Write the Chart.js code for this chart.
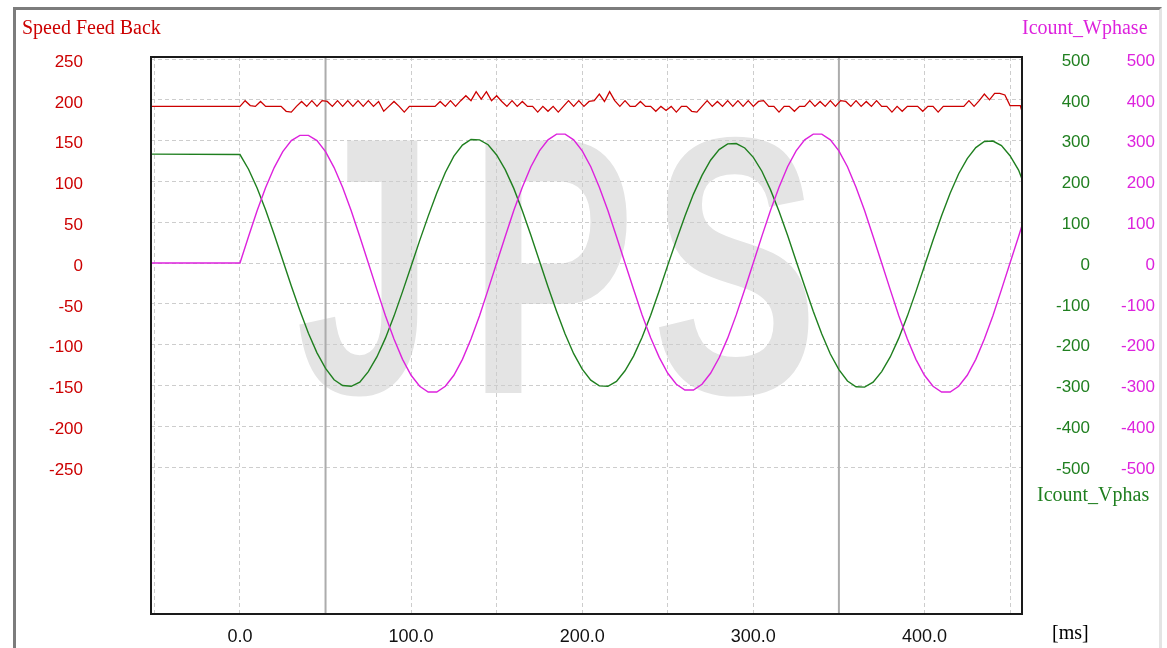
<!DOCTYPE html>
<html><head><meta charset="utf-8">
<script src="https://cdn.jsdelivr.net/npm/chart.js@4/dist/chart.umd.min.js"></script>
<style>
html,body{margin:0;padding:0;background:#fff;}
#wrap{position:relative;width:1167px;height:648px;overflow:hidden;background:#fff;}
#frame{position:absolute;left:13px;top:7px;width:1143px;height:660px;border-left:3px solid #7c7c7c;border-top:3px solid #7c7c7c;border-right:3px solid #e4e4e4;}
canvas{position:absolute;left:0;top:0;}
</style></head><body>
<div id="wrap"><div id="frame"></div><canvas id="c" width="1167" height="648"></canvas></div>
<script>
// ---- axis ranges & ticks ----
const timeMin = -52, timeMax = 457;
const xGridTicks = [-50, 0, 50, 100, 150, 200, 250, 300, 350, 400, 450];
const xLabelTicks = [0, 100, 200, 300, 400];
const speedTicks = [250, 200, 150, 100, 50, 0, -50, -100, -150, -200, -250];
const currentTicks = [500, 400, 300, 200, 100, 0, -100, -200, -300, -400, -500];
const speedMin = -430, speedMax = 252.5;
const currentMin = -860, currentMax = 505;
const cursorTimes = [50, 350];

// ---- Speed Feed Back (left axis), sampled every 3 ms from 0 ms ----
const speedStepMs = 3;
const speedLeadValue = 192;   // value at timeMin (flat before 0)
const speedEndValue = 186;    // value at timeMax
const speedFeedBack = [
  192,199,193,192,198,192,192,192,192,186,
  185,192,198,192,199,192,199,198,192,199,
  192,199,192,199,192,199,192,198,186,192,
  198,192,185,192,192,192,192,192,192,198,
  192,199,192,199,205,199,210,201,210,199,
  205,198,192,199,192,198,192,192,185,192,
  186,192,185,192,199,192,199,192,198,199,
  207,198,210,199,192,199,192,192,198,192,
  192,186,192,187,192,185,192,192,186,185,
  192,199,192,198,192,199,192,199,192,199,
  192,198,199,192,192,185,192,192,186,192,
  192,199,192,198,192,199,192,199,198,192,
  199,192,198,192,199,192,192,185,192,186,
  192,192,192,186,192,192,185,192,192,192,
  192,192,199,192,199,207,200,208,208,206,
  193,193,193
];

// ---- phase currents (right axes), sampled every 5 ms from 0 ms ----
const currentStepMs = 5;
const vLeadValue = 267, vEndValue = 206;
const icountVphas = [
  266,230,184,130,70,7,-56,-116,-172,-220,-258,-286,-300,-302,-292,
  -266,-230,-184,-130,-70,-8,55,115,172,222,262,289,303,302,290,
  265,229,183,128,68,5,-58,-118,-174,-222,-260,-287,-301,-302,-290,
  -264,-228,-182,-128,-68,-5,56,115,169,215,252,278,292,293,282,
  259,225,180,127,68,5,-57,-118,-174,-223,-261,-289,-303,-304,-292,
  -266,-230,-184,-130,-70,-7,56,116,171,219,256,283,298,299,288,
  263,228
];
const wLeadValue = 0, wEndValue = 92;
const icountWphase = [
  0,65,128,185,234,273,300,313,313,300,273,234,185,128,65,
  0,-65,-129,-186,-236,-275,-302,-316,-316,-302,-275,-236,-186,-129,-65,
  0,65,129,186,236,275,302,316,316,302,275,236,186,129,65,
  0,-64,-127,-183,-231,-270,-297,-311,-311,-297,-270,-232,-184,-127,-64,
  1,66,129,186,236,275,302,316,316,302,275,236,186,129,65,
  0,-65,-129,-186,-236,-275,-302,-316,-316,-302,-275,-236,-186,-129,-65,
  0,65
];

function series(lead, values, step, end) {
  const pts = [{x: timeMin, y: lead}];
  values.forEach((v, i) => pts.push({x: i * step, y: v}));
  pts.push({x: timeMax, y: end});
  return pts;
}

const RED = '#cc0000', GREEN = '#1f7f1f', MAGENTA = '#dd22dd';
const tickFont = {family: "'Liberation Sans', Arial, sans-serif", size: 17};

const deco = {
  id: 'deco',
  beforeDraw(chart) {
    const ctx = chart.ctx;
    ctx.save();
    ctx.fillStyle = '#e4e4e4';
    ctx.font = "bold 367px 'Liberation Sans', Arial, sans-serif";
    ctx.textAlign = 'center';
    ctx.textBaseline = 'alphabetic';
    [['J', 365], ['P', 552], ['S', 735]].forEach(([ch, cx]) => {
      ctx.save();
      ctx.translate(cx, 393);
      ctx.scale(0.68, 1);
      ctx.fillText(ch, 0, 0);
      ctx.restore();
    });
    ctx.restore();
  },
  afterDatasetsDraw(chart) {
    const {ctx, chartArea: a} = chart;
    ctx.save();
    ctx.strokeStyle = '#1a1a1a';
    ctx.lineWidth = 2;
    ctx.strokeRect(a.left, a.top, a.right - a.left, a.bottom - a.top);
    ctx.restore();
  },
  afterDraw(chart) {
    const ctx = chart.ctx;
    ctx.save();
    ctx.font = "20px 'Liberation Serif', 'Times New Roman', serif";
    ctx.textBaseline = 'alphabetic';
    ctx.textAlign = 'left';
    ctx.fillStyle = RED; ctx.fillText('Speed Feed Back', 22, 34);
    ctx.fillStyle = MAGENTA; ctx.fillText('Icount_Wphase', 1022, 34);
    ctx.fillStyle = GREEN; ctx.fillText('Icount_Vphas', 1037, 501);
    ctx.fillStyle = '#000'; ctx.fillText('[ms]', 1052, 639);
    ctx.restore();
  }
};

const cursorSets = cursorTimes.map(t => ({
  label: 'cursor ' + t,
  data: [{x: t, y: speedMin}, {x: t, y: speedMax}],
  yAxisID: 'y', borderColor: '#acacac', borderWidth: 2, pointRadius: 0
}));

const noVPad = ax => { ax.paddingTop = 0; ax.paddingBottom = 0; };

new Chart(document.getElementById('c'), {
  type: 'line',
  data: {
    datasets: [
      {label: 'Speed Feed Back', data: series(speedLeadValue, speedFeedBack, speedStepMs, speedEndValue),
       yAxisID: 'y', borderColor: RED, borderWidth: 1.3, pointRadius: 0},
      {label: 'Icount_Wphase', data: series(wLeadValue, icountWphase, currentStepMs, wEndValue),
       yAxisID: 'y2', borderColor: MAGENTA, borderWidth: 1.4, pointRadius: 0},
      {label: 'Icount_Vphas', data: series(vLeadValue, icountVphas, currentStepMs, vEndValue),
       yAxisID: 'y1', borderColor: GREEN, borderWidth: 1.4, pointRadius: 0},
      ...cursorSets
    ]
  },
  options: {
    responsive: false, animation: false,
    layout: {autoPadding: false, padding: {left: 0, right: 12, top: 57, bottom: 0}},
    plugins: {legend: {display: false}, tooltip: {enabled: false}, title: {display: false}},
    scales: {
      x: {
        type: 'linear', min: timeMin, max: timeMax,
        afterBuildTicks: ax => { ax.ticks = xGridTicks.map(v => ({value: v})); },
        afterFit: ax => { ax.height = 34; ax.paddingLeft = 0; ax.paddingRight = 0; },
        ticks: {autoSkip: false, maxRotation: 0, color: '#111', padding: 12,
          font: {family: "'Liberation Sans', Arial, sans-serif", size: 18},
          callback: v => xLabelTicks.includes(v) ? v.toFixed(1) : ''},
        grid: {color: '#cdcdcd', drawTicks: false, lineWidth: 1},
        border: {display: false, dash: [4, 3]}
      },
      y: {
        type: 'linear', position: 'left', min: speedMin, max: speedMax,
        afterBuildTicks: ax => { ax.ticks = speedTicks.map(v => ({value: v})); },
        afterFit: ax => { ax.width = 151; noVPad(ax); },
        ticks: {color: RED, font: tickFont, padding: 68, labelOffset: 3},
        grid: {color: '#cdcdcd', drawTicks: false, lineWidth: 1},
        border: {display: false, dash: [4, 3]}
      },
      y1: {
        type: 'linear', position: 'right', weight: 1, min: currentMin, max: currentMax,
        afterBuildTicks: ax => { ax.ticks = currentTicks.map(v => ({value: v})); },
        afterFit: ax => { ax.width = 68; noVPad(ax); },
        ticks: {color: GREEN, font: tickFont, crossAlign: 'far', padding: 0, labelOffset: 2},
        grid: {display: false, drawTicks: false}, border: {display: false}
      },
      y2: {
        type: 'linear', position: 'right', weight: 2, min: currentMin, max: currentMax,
        afterBuildTicks: ax => { ax.ticks = currentTicks.map(v => ({value: v})); },
        afterFit: ax => { ax.width = 65; noVPad(ax); },
        ticks: {color: MAGENTA, font: tickFont, crossAlign: 'far', padding: 0, labelOffset: 2},
        grid: {display: false, drawTicks: false}, border: {display: false}
      }
    }
  },
  plugins: [deco]
});
</script>
</body></html>
